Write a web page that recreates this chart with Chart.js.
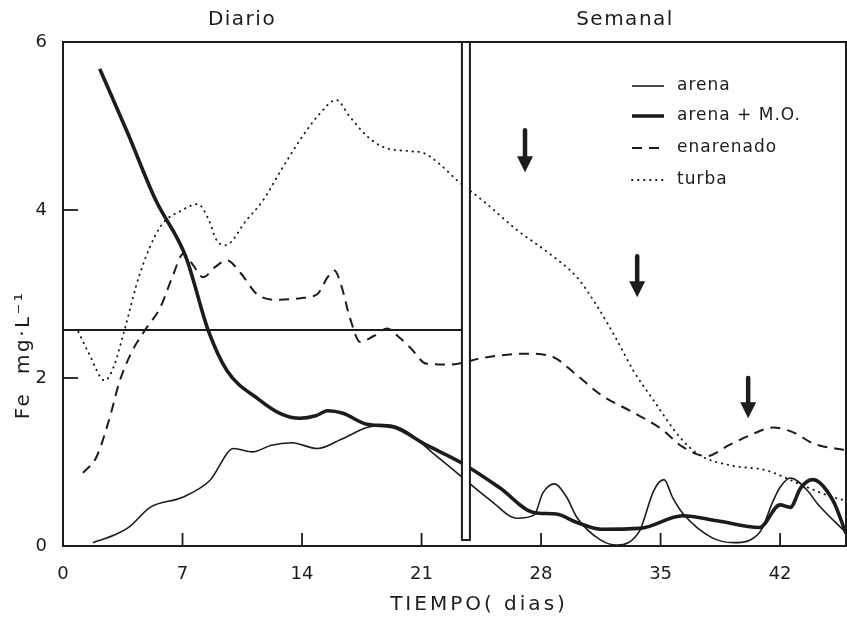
<!DOCTYPE html>
<html>
<head>
<meta charset="utf-8">
<style>
  html, body { margin: 0; padding: 0; background: #fff; }
  canvas { display: block; }
</style>
<script src="https://cdn.jsdelivr.net/npm/chart.js@4.4.1/dist/chart.umd.min.js"></script>
</head>
<body>
<canvas id="feChart" width="847" height="617"></canvas>
<script>
// values, [day, Fe mg/L]
const arena = [
  [1.75, 0.04], [3.0, 0.13], [3.9, 0.23], [5.1, 0.46], [7.0, 0.58], [8.6, 0.78],
  [10.0, 1.16], [11.1, 1.12], [12.2, 1.2], [13.4, 1.23], [14.9, 1.16], [16.3, 1.27],
  [17.8, 1.41], [19.0, 1.44], [20.0, 1.38], [21.7, 1.10], [23.25, 0.84], [25.0, 0.55],
  [26.6, 0.33], [27.6, 0.37], [28.1, 0.63], [28.8, 0.74], [29.5, 0.58], [30.1, 0.34],
  [31.5, 0.07], [32.45, 0.01], [33.8, 0.19], [34.0, 0.30], [34.6, 0.66], [35.2, 0.79],
  [35.7, 0.58], [36.3, 0.39], [38.0, 0.1], [39.3, 0.04], [40.8, 0.16], [41.6, 0.54],
  [42.0, 0.70], [42.6, 0.81], [43.6, 0.66], [44.2, 0.5], [45.86, 0.16]
];
const arenaMO = [
  [2.15, 5.68], [3.8, 4.91], [5.4, 4.13], [7.2, 3.44], [8.5, 2.57], [9.6, 2.09],
  [11.5, 1.74], [12.7, 1.58], [13.9, 1.52], [14.8, 1.55], [15.5, 1.61], [16.4, 1.58],
  [17.8, 1.45], [19.3, 1.42], [21.3, 1.2], [23.25, 1.0], [25.6, 0.69], [27.55, 0.40],
  [28.9, 0.38], [30.1, 0.28], [31.5, 0.2], [33.8, 0.21], [36.3, 0.36], [38.3, 0.30],
  [40.8, 0.22], [42.0, 0.49], [42.6, 0.46], [43.2, 0.69], [43.9, 0.79], [45.1, 0.54],
  [45.86, 0.15]
];
const enarenado = [
  [1.17, 0.87], [1.96, 1.06], [2.74, 1.53], [3.3, 1.95], [4.0, 2.3], [4.8, 2.57],
  [5.7, 2.84], [6.4, 3.2], [7.05, 3.48], [7.6, 3.35], [8.2, 3.2], [8.9, 3.32],
  [9.6, 3.4], [10.4, 3.25], [11.35, 3.0], [12.5, 2.93], [13.9, 2.95], [14.9, 3.0],
  [15.5, 3.2], [15.9, 3.28], [16.3, 3.1], [16.8, 2.72], [17.4, 2.43], [18.2, 2.5],
  [19.0, 2.59], [19.6, 2.5], [20.3, 2.37], [21.3, 2.17], [22.7, 2.16], [24.6, 2.24],
  [27.2, 2.29], [28.7, 2.25], [30.0, 2.05], [31.5, 1.8], [33.3, 1.6], [35.0, 1.40],
  [36.3, 1.18], [37.7, 1.07], [39.0, 1.2], [40.25, 1.32], [41.6, 1.41], [42.8, 1.35],
  [43.95, 1.22], [45.86, 1.14]
];
const turba = [
  [0.9, 2.55], [1.5, 2.3], [2.45, 1.97], [3.0, 2.15], [3.6, 2.57], [4.5, 3.24],
  [5.7, 3.80], [7.0, 4.0], [7.9, 4.07], [8.5, 3.9], [9.0, 3.64], [9.5, 3.58],
  [10.75, 3.88], [11.7, 4.11], [12.7, 4.45], [13.87, 4.83], [15.05, 5.15], [16.0, 5.31],
  [16.8, 5.11], [17.8, 4.88], [18.75, 4.75], [20.3, 4.7], [21.1, 4.68], [22.1, 4.54],
  [23.1, 4.35], [24.6, 4.11], [26.6, 3.76], [28.5, 3.48], [30.1, 3.2], [31.3, 2.85],
  [32.45, 2.45], [33.4, 2.09], [34.6, 1.73], [36.15, 1.29], [37.3, 1.08], [39.1, 0.96],
  [41.2, 0.90], [43.0, 0.75], [45.1, 0.58], [45.86, 0.54]
];
const refLine = [[0, 2.57], [23.35, 2.57]];
const xTicks = [0, 7, 14, 21, 28, 35, 42];
const yTicks = [0, 2, 4, 6];
const xMax = 45.86;
const splitDay = 23.6;           // Diario / Semanal divider
const arrows = [[27.06, 4.95, 4.45], [33.63, 3.45, 2.96], [40.13, 2.0, 1.52]];

const INK = "#1c1c1c";
const FONT = "'DejaVu Sans', sans-serif";

function pts(arr) { return arr.map(p => ({ x: p[0], y: p[1] })); }

function series(label, arr, width, dash) {
  return {
    label: label,
    data: pts(arr),
    borderColor: INK,
    borderWidth: width,
    borderDash: dash,
    borderCapStyle: dash.length && dash[0] < 3 ? "round" : "butt",
    pointRadius: 0,
    fill: false,
    cubicInterpolationMode: "monotone",
    showInLegend: true
  };
}

const decor = {
  id: "decor",
  afterDatasetsDraw(chart) {
    const ctx = chart.ctx;
    const a = chart.chartArea;
    const xs = chart.scales.x, ys = chart.scales.y;
    ctx.save();
    ctx.strokeStyle = INK;

    // divider bar
    const bx = xs.getPixelForValue(splitDay);
    const bBottom = ys.getPixelForValue(0.07);
    ctx.fillStyle = "#fff";
    ctx.fillRect(bx - 4, a.top, 8, bBottom - a.top);
    ctx.lineWidth = 2;
    ctx.beginPath();
    ctx.moveTo(bx - 4, a.top); ctx.lineTo(bx - 4, bBottom); ctx.lineTo(bx + 4, bBottom); ctx.lineTo(bx + 4, a.top);
    ctx.stroke();

    // arrows
    ctx.fillStyle = INK;
    arrows.forEach(([d, y0, y1]) => {
      const x = xs.getPixelForValue(d);
      const top = ys.getPixelForValue(y0), tip = ys.getPixelForValue(y1);
      ctx.lineWidth = 4.5;
      ctx.lineCap = "round";
      ctx.beginPath();
      ctx.moveTo(x, top); ctx.lineTo(x, tip - 12);
      ctx.stroke();
      ctx.beginPath();
      ctx.moveTo(x - 8, tip - 16); ctx.lineTo(x + 8, tip - 16); ctx.lineTo(x, tip);
      ctx.closePath();
      ctx.fill();
    });

    // frame
    ctx.lineCap = "butt";
    ctx.lineWidth = 2;
    ctx.strokeRect(a.left, a.top, a.right - a.left, a.bottom - a.top);

    // inward ticks
    ctx.lineWidth = 1.8;
    xTicks.slice(1).forEach(v => {
      const x = xs.getPixelForValue(v);
      ctx.beginPath(); ctx.moveTo(x, a.bottom); ctx.lineTo(x, a.bottom - 13); ctx.stroke();
    });
    [2, 4].forEach(v => {
      const y = ys.getPixelForValue(v);
      ctx.beginPath(); ctx.moveTo(a.left, y); ctx.lineTo(a.left + 15, y); ctx.stroke();
    });
    ctx.restore();
  },
  afterDraw(chart) {
    const ctx = chart.ctx;
    ctx.save();
    ctx.fillStyle = INK;
    ctx.strokeStyle = INK;
    ctx.textBaseline = "middle";

    ctx.font = "20px " + FONT;
    ctx.textAlign = "center";
    ctx.letterSpacing = "1.5px";
    ctx.fillText("Diario", 242, 20);
    ctx.fillText("Semanal", 625, 20);
    ctx.letterSpacing = "3px";
    ctx.fillText("TIEMPO( dias)", 479, 605);

    ctx.letterSpacing = "2.5px";
    ctx.translate(24, 355);
    ctx.rotate(-Math.PI / 2);
    ctx.fillText("Fe  mg·L\u207B\u00B9", 0, 0);
    ctx.setTransform(1, 0, 0, 1, 0, 0);

    // legend
    ctx.letterSpacing = "1px";
    ctx.font = "17px " + FONT;
    ctx.textAlign = "left";
    const rows = [86, 116, 148, 180];
    chart.data.datasets.filter(ds => ds.showInLegend).forEach((ds, i) => {
      const y = rows[i];
      ctx.lineWidth = ds.borderWidth;
      ctx.setLineDash(ds.borderDash);
      ctx.lineCap = ds.borderCapStyle;
      ctx.beginPath(); ctx.moveTo(632, y); ctx.lineTo(664, y); ctx.stroke();
      ctx.setLineDash([]);
      ctx.fillText(ds.label, 677, y);
    });
    ctx.restore();
  }
};

new Chart(document.getElementById("feChart"), {
  type: "line",
  data: {
    datasets: [
      series("arena", arena, 1.6, []),
      series("arena + M.O.", arenaMO, 3.6, []),
      series("enarenado", enarenado, 2, [10, 7]),
      series("turba", turba, 1.9, [0.5, 5.5]),
      {
        label: "ref",
        data: pts(refLine),
        borderColor: INK,
        borderWidth: 2,
        pointRadius: 0,
        fill: false,
        showInLegend: false
      }
    ]
  },
  options: {
    responsive: false,
    animation: false,
    layout: { padding: { top: 42, right: 1, left: 0, bottom: 0 } },
    plugins: { legend: { display: false }, tooltip: { enabled: false } },
    scales: {
      x: {
        type: "linear",
        min: 0,
        max: xMax,
        afterFit: s => { s.height = 71; },
        afterBuildTicks: s => { s.ticks = xTicks.map(v => ({ value: v })); },
        grid: { display: false },
        border: { display: false },
        ticks: { color: INK, font: { family: FONT, size: 18 }, padding: 10, maxRotation: 0, autoSkip: false }
      },
      y: {
        min: 0,
        max: 6,
        afterFit: s => { s.width = 63; },
        afterBuildTicks: s => { s.ticks = yTicks.map(v => ({ value: v })); },
        grid: { display: false },
        border: { display: false },
        ticks: { color: INK, font: { family: FONT, size: 18 }, padding: 8 }
      }
    }
  },
  plugins: [decor]
});
</script>
</body>
</html>
